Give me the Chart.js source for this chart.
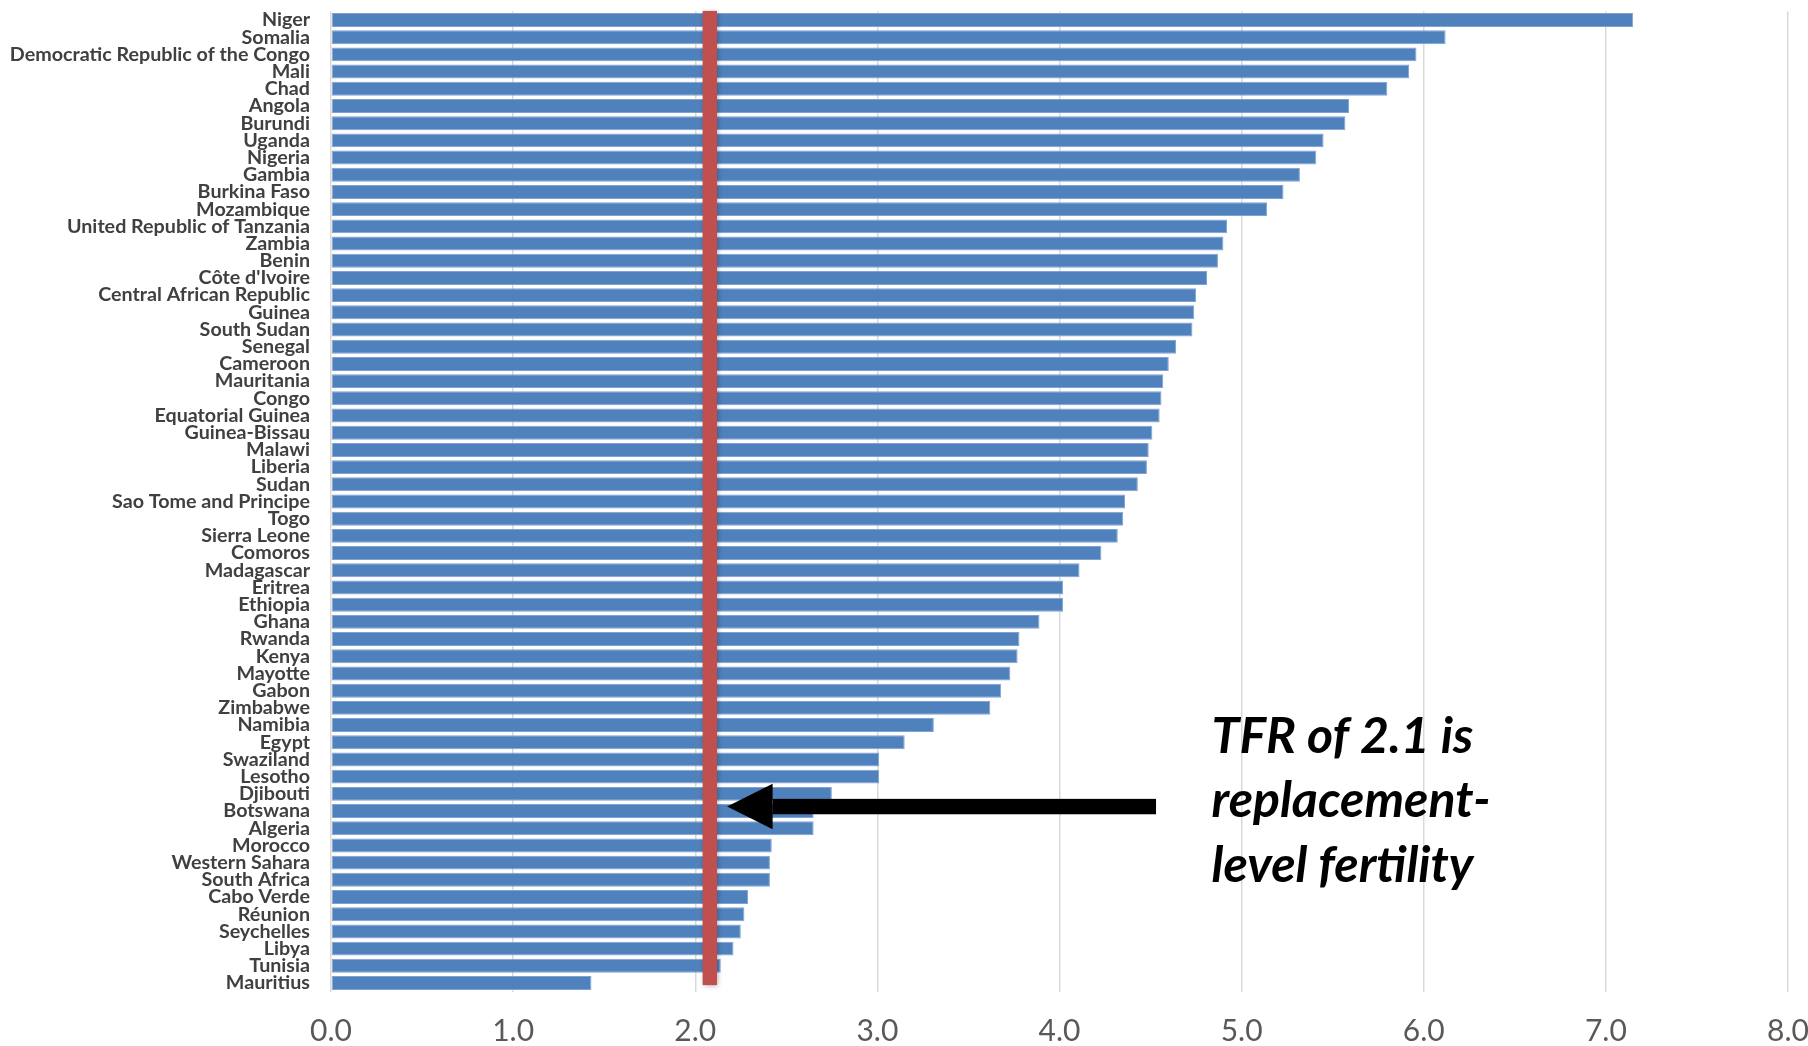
<!DOCTYPE html>
<html>
<head>
<meta charset="utf-8">
<script src="https://cdn.jsdelivr.net/npm/chart.js@4.4.1/dist/chart.umd.min.js"></script>
<style>
    html, body { margin: 0; padding: 0; background: #ffffff; }
    #wrap { width: 1808px; height: 1046px; position: relative; }
</style>
</head>
<body>
<div id="wrap"><canvas id="tfrChart"></canvas></div>
<script>
// ==================== DATA ====================
const countries = [
    'Niger', 'Somalia', 'Democratic Republic of the Congo', 'Mali', 'Chad', 'Angola', 'Burundi',
    'Uganda', 'Nigeria', 'Gambia', 'Burkina Faso', 'Mozambique', 'United Republic of Tanzania',
    'Zambia', 'Benin', "Côte d'Ivoire", 'Central African Republic', 'Guinea', 'South Sudan',
    'Senegal', 'Cameroon', 'Mauritania', 'Congo', 'Equatorial Guinea', 'Guinea-Bissau', 'Malawi',
    'Liberia', 'Sudan', 'Sao Tome and Principe', 'Togo', 'Sierra Leone', 'Comoros', 'Madagascar',
    'Eritrea', 'Ethiopia', 'Ghana', 'Rwanda', 'Kenya', 'Mayotte', 'Gabon', 'Zimbabwe', 'Namibia',
    'Egypt', 'Swaziland', 'Lesotho', 'Djibouti', 'Botswana', 'Algeria', 'Morocco',
    'Western Sahara', 'South Africa', 'Cabo Verde', 'Réunion', 'Seychelles', 'Libya', 'Tunisia',
    'Mauritius'
];

const tfrValues = [
    7.15, 6.12, 5.96, 5.92, 5.80, 5.59, 5.57,
    5.45, 5.41, 5.32, 5.23, 5.14, 4.92,
    4.90, 4.87, 4.81, 4.75, 4.74, 4.73,
    4.64, 4.60, 4.57, 4.56, 4.55, 4.51, 4.49,
    4.48, 4.43, 4.36, 4.35, 4.32, 4.23, 4.11,
    4.02, 4.02, 3.89, 3.78, 3.77, 3.73, 3.68, 3.62, 3.31,
    3.15, 3.01, 3.01, 2.75, 2.65, 2.65, 2.42,
    2.41, 2.41, 2.29, 2.27, 2.25, 2.21, 2.14,
    1.43
];

const xTickValues = [0, 1, 2, 3, 4, 5, 6, 7, 8];

// red marker drawn where the picture puts it (labelled as 2.1)
const replacementLine = 2.08;

// arrow + note, in data units
const arrowTail = 4.53;
const arrowTip = 2.175;
const arrowRow = 45.74;
const noteX = 4.835;
const noteLines = ['TFR of 2.1 is', 'replacement-', 'level fertility'];

// ==================== PLUGIN ====================
const annotationPlugin = {
    id: 'replacementNote',
    afterDatasetsDraw(chart) {
        const { ctx, chartArea, scales } = chart;
        const x = scales.x;
        const y = scales.y;

        // red vertical line
        const lx = x.getPixelForValue(replacementLine);
        ctx.save();
        ctx.shadowColor = 'rgba(0,0,0,0.35)';
        ctx.shadowBlur = 5;
        ctx.shadowOffsetX = 1;
        ctx.shadowOffsetY = 1;
        ctx.fillStyle = '#C0504D';
        ctx.fillRect(lx - 7.2, chartArea.top - 0.5, 14.4, chartArea.bottom - chartArea.top - 6);
        ctx.restore();

        // black arrow
        const ay = y.getPixelForValue(arrowRow);
        const tipX = x.getPixelForValue(arrowTip);
        const tailX = x.getPixelForValue(arrowTail);
        const headLen = 45.5;
        ctx.save();
        ctx.fillStyle = '#000000';
        ctx.fillRect(tipX + headLen, ay - 7.7, tailX - tipX - headLen, 15.4);
        ctx.beginPath();
        ctx.moveTo(tipX, ay);
        ctx.lineTo(tipX + headLen, ay - 22.7);
        ctx.lineTo(tipX + headLen, ay + 22.7);
        ctx.closePath();
        ctx.fill();
        ctx.restore();

        // note text
        const tx = x.getPixelForValue(noteX);
        ctx.save();
        ctx.fillStyle = '#000000';
        ctx.font = 'italic bold 50px Lato';
        ctx.textBaseline = 'alphabetic';
        ctx.textAlign = 'left';
        noteLines.forEach((line, i) => {
            ctx.fillText(line, tx, 753 + i * 64.3);
        });
        ctx.restore();
    }
};

// ==================== CHART ====================
new Chart(document.getElementById('tfrChart'), {
    type: 'bar',
    data: {
        labels: countries,
        datasets: [{
            data: tfrValues,
            backgroundColor: '#4F81BD',
            borderColor: '#7FA3D3',
            borderWidth: 1,
            borderSkipped: false,
            barPercentage: 0.81,
            categoryPercentage: 1.0
        }]
    },
    options: {
        indexAxis: 'y',
        responsive: true,
        maintainAspectRatio: false,
        animation: false,
        layout: { padding: { top: 11.4, right: 20, left: 0, bottom: 0 } },
        plugins: {
            legend: { display: false },
            tooltip: { enabled: false }
        },
        scales: {
            x: {
                min: 0,
                max: 8,
                afterBuildTicks: scale => {
                    scale.ticks = xTickValues.map(v => ({ value: v }));
                },
                afterFit: scale => {
                    scale.height = 54.4;
                    scale.paddingLeft = 0;
                    scale.paddingRight = 0;
                },
                grid: { color: '#D9D9D9', lineWidth: 1.5, drawTicks: false },
                border: { display: false },
                ticks: {
                    color: '#595959',
                    padding: 22,
                    font: { family: 'Lato', size: 30 },
                    callback: v => Number(v).toFixed(1)
                }
            },
            y: {
                afterFit: scale => {
                    scale.width = 331;
                    scale.paddingTop = 0;
                    scale.paddingBottom = 0;
                },
                grid: { display: false, drawTicks: false },
                border: { display: false },
                ticks: {
                    autoSkip: false,
                    color: '#404040',
                    padding: 21,
                    font: { family: 'Lato', size: 19.7, weight: 'bold' }
                }
            }
        }
    },
    plugins: [annotationPlugin]
});
</script>
</body>
</html>
